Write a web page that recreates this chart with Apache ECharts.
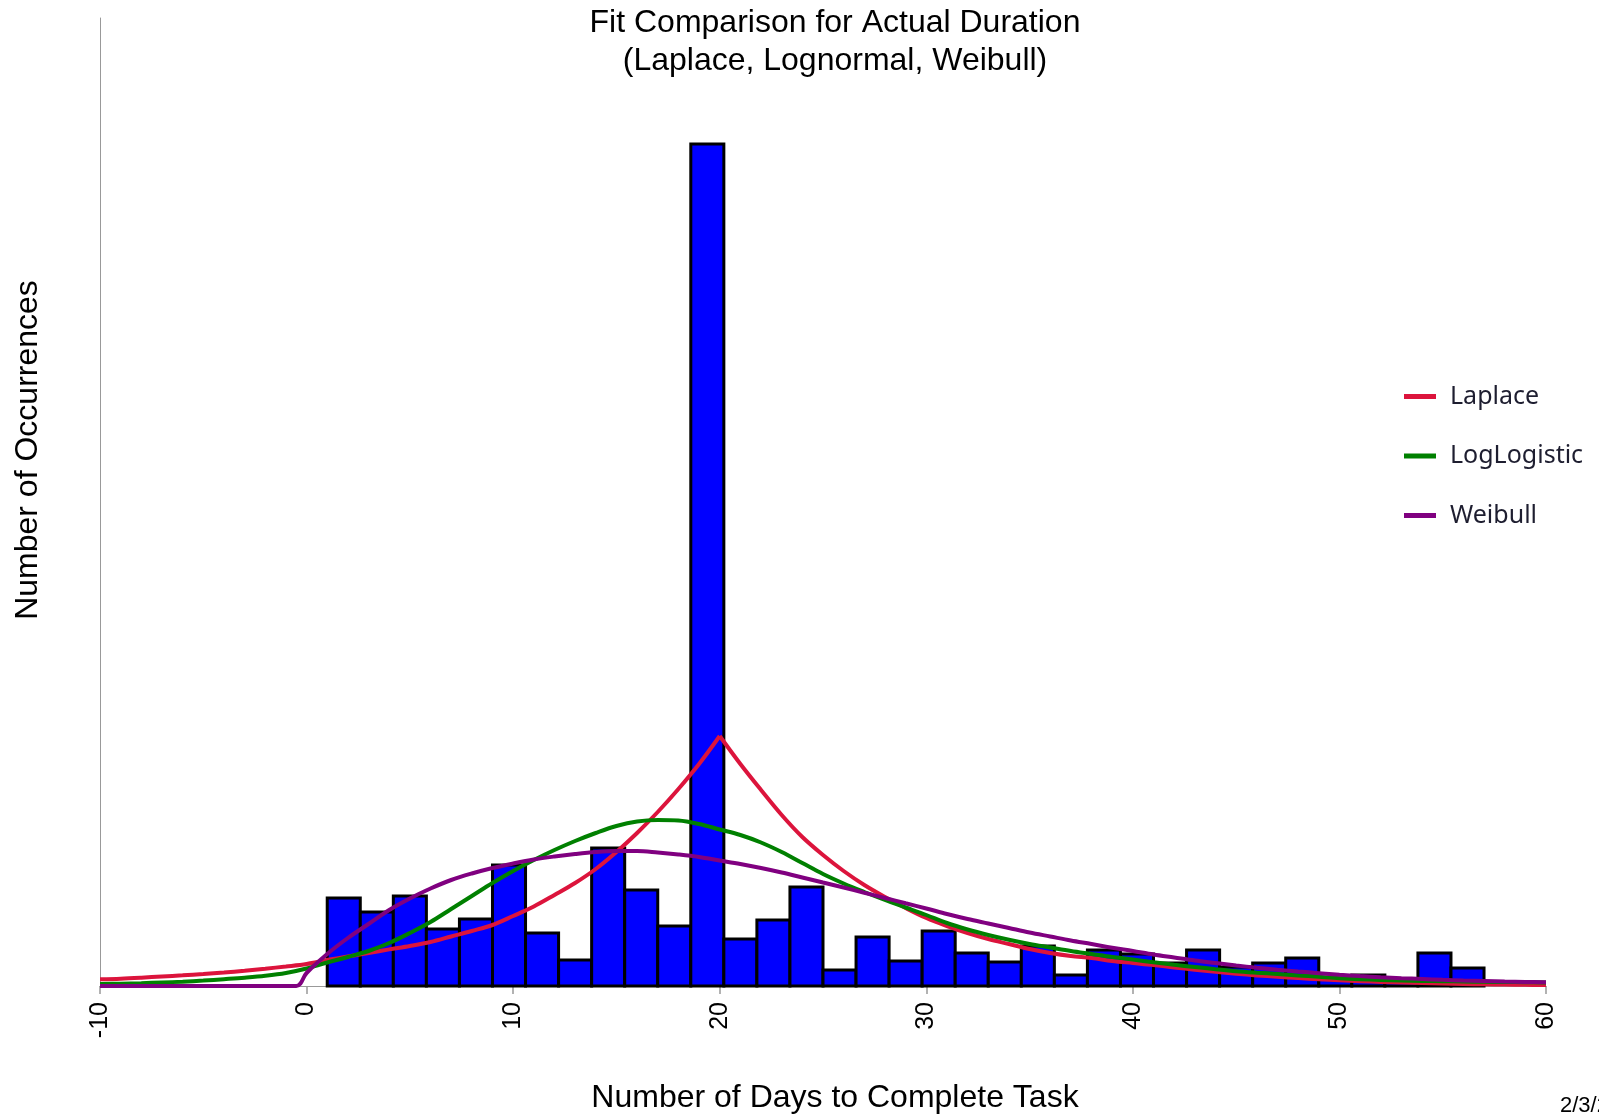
<!DOCTYPE html>
<html>
<head>
<meta charset="utf-8">
<script src="https://cdn.jsdelivr.net/npm/echarts@6/dist/echarts.min.js"></script>
<style>
html,body{margin:0;padding:0;background:#fff;}
#chart{width:1599px;height:1116px;}
</style>
</head>
<body>
<div id="chart"></div>
<script>
// Histogram bins (days) and bar heights (relative occurrences)
const binEdges = [1, 2.6, 4.2, 5.8, 7.4, 9, 10.6, 12.2, 13.8, 15.4, 17, 18.6, 20.2, 21.8, 23.4, 25, 26.6, 28.2, 29.8, 31.4, 33, 34.6, 36.2, 37.8, 39.4, 41, 42.6, 44.2, 45.8, 47.4, 49, 50.6, 52.2, 53.8, 55.4, 57];
const binCounts = [88, 74, 90, 57, 67, 121, 53, 26, 138, 96, 60, 842, 47, 66, 99, 16, 49, 25, 55, 33, 24, 40, 11, 36, 32, 23, 36, 19, 23, 28, 8, 11, 5, 33, 18];

// Fitted curves
const curveX = [-10,-9,-8,-7,-6,-5,-4,-3,-2,-1,0,1,2,3,4,5,6,7,8,9,10,11,12,13,14,15,16,17,18,19,20,21,22,23,24,25,26,27,28,29,30,31,32,33,34,35,36,37,38,39,40,41,42,43,44,45,46,47,48,49,50,51,52,53,54,55,56,57,58,59,60];
const laplaceY = [6.7,7.3,8.3,9.5,10.7,12,13.5,15.3,17.3,19.5,22,26,29.5,33,36.6,40,44,49.5,55,61,70,79.5,91,103,117,134,153,174,197,222,250,222,196,171,149,131,115,101,89,78,68,60,53,47,42,37,33,30,28,25,23,21,18.5,16.3,14.2,12.3,10.6,9.2,7.9,6.8,5.7,4.8,4.1,3.5,2.9,2.4,2,1.7,1.4,1.2,1];
const logLogisticY = [2,2.3,2.8,3.5,4.3,5.4,6.8,8.3,10.2,13,17.5,23.5,29,35,43,53,64,77,90,103,115,126,136,145,153,160,164.5,166,165.5,162,156.5,151,143.5,134,123,112,102.5,94,86,78.5,71,63,56.5,51,46.2,42,38.5,35,32,29,26.5,23.7,21.2,19,16.8,14.8,13.3,12,10.6,9.2,7.8,6.8,6.1,5.5,5.1,4.8,4.5,4.2,4,3.8,3.5];
const weibullX = [-10,-0.5,0,1,2,3,4,5,6,7,8,9,10,11,12,13,14,15,16,17,18,19,20,21,22,23,24,25,26,27,28,29,30,31,32,33,34,35,36,37,38,39,40,41,42,43,44,45,46,47,48,49,50,51,52,53,54,55,56,57,58,59,60];
const weibullY = [0,0,13,32,48,62,76,87.5,97.5,106,112.5,118,122.5,126.5,129.5,132,134,135,135,133.5,131.5,129,125.5,122,118,113.5,108.5,103.5,98.5,93.2,88,82.7,77.5,72,67,62.5,58,53.5,49.5,45.5,42,38.3,35,31.5,28.5,25.5,23,20.5,18.3,16.3,14.5,12.8,11.2,9.9,8.8,7.8,7,6.2,5.5,5,4.5,4.1,3.7];

const xTicks = [-10, 0, 10, 20, 30, 40, 50, 60];
const seriesNames = ['Laplace', 'LogLogistic', 'Weibull'];
const seriesColors = ['#DC143C', '#008000', '#800080'];
const laplacePeakDay = 20;

const barData = binCounts.map((c, i) => [binEdges[i], binEdges[i + 1], c]);
const zip = (xs, ys) => xs.map((x, i) => [x, ys[i]]);
const laplacePts = zip(curveX, laplaceY);
const laplaceLeft = laplacePts.filter(p => p[0] <= laplacePeakDay);
const laplaceRight = laplacePts.filter(p => p[0] >= laplacePeakDay);

const chart = echarts.init(document.getElementById('chart'), null, {renderer: 'canvas'});
const baseFont = '"Liberation Sans", Arial, sans-serif';
const titleFont = '32px "Liberation Sans", Arial, sans-serif';

function lineSeries(name, data, color, z) {
  return {type: 'line', name: name, data: data, showSymbol: false, symbol: 'none', z: z,
    smooth: 0.35, lineStyle: {color: color, width: 4}, itemStyle: {color: color}};
}

chart.setOption({
  animation: false,
  backgroundColor: '#ffffff',
  grid: {left: 100, right: 53, top: 18, bottom: 130, containLabel: false},
  xAxis: {
    type: 'value', min: -10, max: 60, interval: 10,
    axisLine: {show: true, onZero: false, lineStyle: {color: '#999999', width: 1}},
    axisTick: {show: true, length: 8, lineStyle: {color: '#999999', width: 1.5}},
    axisLabel: {rotate: 90, margin: 16, fontSize: 25, color: '#000', fontFamily: baseFont,
      formatter: v => xTicks.includes(v) ? String(v) : ''},
    splitLine: {show: false}
  },
  yAxis: {
    type: 'value', min: 0, max: 968,
    axisLine: {show: true, onZero: false, lineStyle: {color: '#999999', width: 1}},
    axisTick: {show: false}, axisLabel: {show: false}, splitLine: {show: false}
  },
  legend: {
    data: seriesNames, orient: 'vertical', left: 1399, top: 379,
    icon: 'rect', itemWidth: 32, itemHeight: 5, itemGap: 34.5,
    textStyle: {fontFamily: '"Noto Sans", sans-serif', fontSize: 25, color: '#1e1e30', padding: [0, 0, 0, 9]}
  },
  graphic: [
    {type: 'text', x: 835, y: 7, style: {text: 'Fit Comparison for Actual Duration', font: titleFont, fill: '#000', align: 'center'}},
    {type: 'text', x: 835, y: 45, style: {text: '(Laplace, Lognormal, Weibull)', font: titleFont, fill: '#000', align: 'center'}},
    {type: 'text', x: 835, y: 1098, style: {text: 'Number of Days to Complete Task', font: titleFont, fill: '#000', align: 'center', verticalAlign: 'middle'}},
    {type: 'text', x: 28, y: 450, rotation: Math.PI / 2, style: {text: 'Number of Occurrences', font: titleFont, fill: '#000', align: 'center', verticalAlign: 'middle'}},
    {type: 'text', x: 1560, y: 1095, style: {text: '2/3/2019', font: '22px "Liberation Sans", Arial, sans-serif', fill: '#000'}}
  ],
  series: [
    {
      type: 'custom', name: 'Histogram', data: barData, encode: {x: [0, 1], y: 2}, z: 1,
      renderItem: function (params, api) {
        const p0 = api.coord([api.value(0), api.value(2)]);
        const p1 = api.coord([api.value(1), 0]);
        return {type: 'rect', shape: {x: p0[0], y: p0[1], width: p1[0] - p0[0], height: p1[1] - p0[1]},
          style: {fill: '#0000FF', stroke: '#000000', lineWidth: 3}};
      }
    },
    lineSeries(seriesNames[0], laplaceLeft, seriesColors[0], 3),
    lineSeries(seriesNames[0], laplaceRight, seriesColors[0], 3),
    lineSeries(seriesNames[1], zip(curveX, logLogisticY), seriesColors[1], 3),
    lineSeries(seriesNames[2], zip(weibullX, weibullY), seriesColors[2], 4)
  ]
});
</script>
</body>
</html>
